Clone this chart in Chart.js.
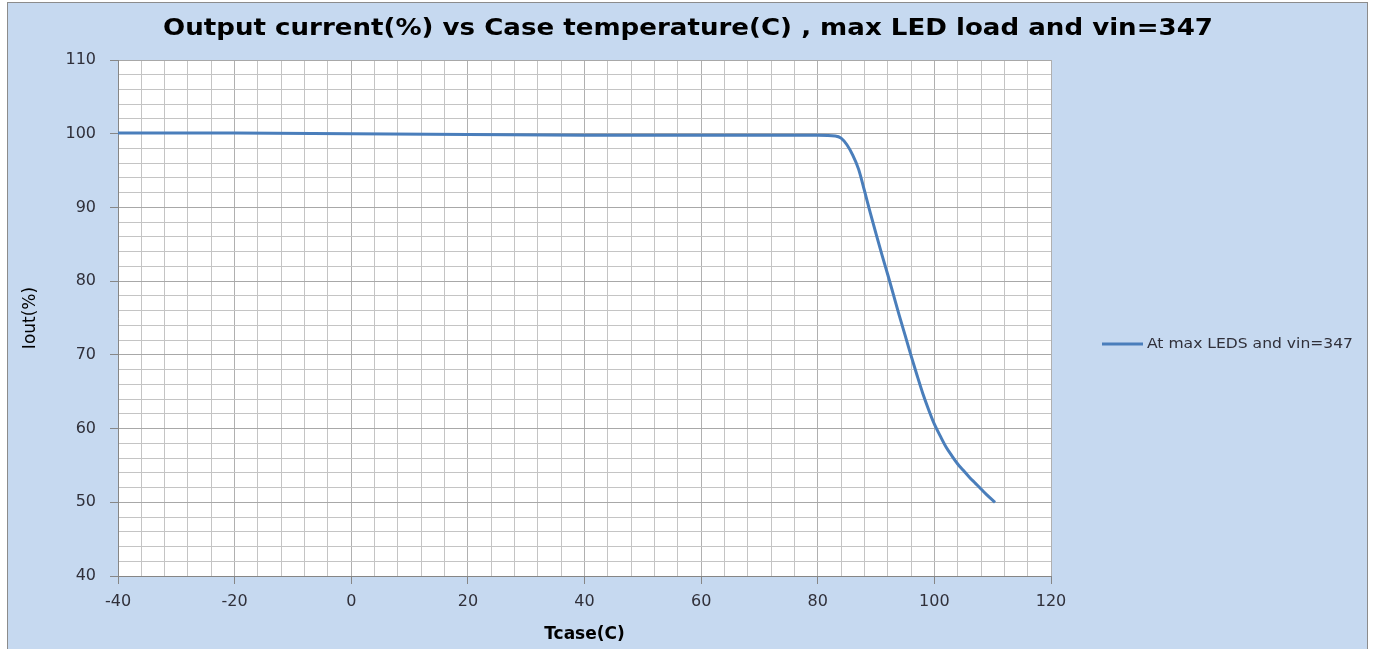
<!DOCTYPE html>
<html>
<head>
<meta charset="utf-8">
<script src="https://cdn.jsdelivr.net/npm/chart.js@4/dist/chart.umd.min.js"></script>
<style>
  html, body { margin: 0; padding: 0; background: #ffffff; }
  canvas { display: block; }
</style>
</head>
<body>
<canvas id="deratingChart" width="1374" height="649"></canvas>
<script>
// values
const chartTitle = 'Output current(%) vs Case temperature(C) , max LED load and vin=347';
const seriesLabel = 'At max LEDS and vin=347';
const tcase = [-40, -20, 0, 20, 40, 60, 80, 83, 84, 85, 86, 87, 88, 89, 90, 91, 92, 93, 94, 95, 96, 97, 98, 99, 100, 101, 102, 103, 104, 105, 106, 107, 108, 109, 110.4];
const ioutPct = [100.1, 100.1, 100.0, 99.9, 99.8, 99.8, 99.8, 99.7, 99.4, 98.5, 97.1, 95.2, 92.3, 89.3, 86.4, 83.6, 80.9, 78.1, 75.3, 72.6, 69.9, 67.3, 64.8, 62.6, 60.6, 59.0, 57.5, 56.3, 55.2, 54.3, 53.4, 52.6, 51.8, 51.0, 50.0];
const xTicks = { min: -40, max: 120, minorStep: 4, labelStep: 20 };
const yTicks = { min: 40, max: 110, minorStep: 2, labelStep: 10 };

const lineBlue = '#4a7ebb';
const textColor = '#30303a';
const axisGray = '#868686';

// draws text squeezed or stretched to a given width, like the source picture
function drawFitted(c, text, x, y, width) {
    const w = c.measureText(text).width;
    c.save();
    c.translate(x, y);
    c.scale(width / w, 1);
    c.fillText(text, 0, 0);
    c.restore();
}

// background, frame, title and legend
const framePlugin = {
    id: 'frame',
    beforeDraw(chart) {
        const c = chart.ctx;
        c.save();
        c.fillStyle = '#ffffff';
        c.fillRect(0, 0, chart.width, chart.height);
        c.fillStyle = '#c6d9f0';
        c.fillRect(7, 2, 1361, 647);
        c.strokeStyle = '#8c8c8c';
        c.lineWidth = 1;
        c.strokeRect(7.5, 2.5, 1360, 650);
        const a = chart.chartArea;
        c.fillStyle = '#ffffff';
        c.fillRect(a.left, a.top, a.right - a.left, a.bottom - a.top);
        c.restore();
    },
    afterDraw(chart) {
        const c = chart.ctx;
        c.save();
        c.fillStyle = '#000000';
        c.font = 'bold 23px "DejaVu Sans"';
        c.textAlign = 'center';
        c.textBaseline = 'middle';
        drawFitted(c, chartTitle, 688, 29, 1050);

        // legend on the right
        const ds = chart.data.datasets[0];
        c.strokeStyle = ds.borderColor;
        c.lineWidth = 3;
        c.beginPath();
        c.moveTo(1102, 344);
        c.lineTo(1143, 344);
        c.stroke();
        c.fillStyle = textColor;
        c.font = '14px "DejaVu Sans"';
        c.textAlign = 'left';
        drawFitted(c, ds.label, 1147, 344, 206);
        c.restore();
    }
};

const isMajor = (ctx, step) => ctx.tick && Math.abs(ctx.tick.value % step) < 1e-6;

const ctx = document.getElementById('deratingChart');
new Chart(ctx, {
    type: 'line',
    data: {
        datasets: [{
            label: seriesLabel,
            data: tcase.map((t, i) => ({ x: t, y: ioutPct[i] })),
            borderColor: lineBlue,
            borderWidth: 3,
            pointRadius: 0,
            fill: false,
            cubicInterpolationMode: 'monotone'
        }]
    },
    options: {
        responsive: false,
        animation: false,
        devicePixelRatio: 1,
        layout: { padding: { top: 60, right: 323, bottom: 0, left: 0 } },
        plugins: {
            legend: { display: false },
            title: { display: false },
            tooltip: { enabled: false }
        },
        scales: {
            x: {
                type: 'linear',
                min: xTicks.min,
                max: xTicks.max,
                afterFit: (scale) => { scale.height = 73; },
                grid: {
                    color: (c) => isMajor(c, xTicks.labelStep) ? '#b0b0b0' : '#c4c4c4',
                    tickColor: (c) => isMajor(c, xTicks.labelStep) ? axisGray : 'rgba(0,0,0,0)',
                    tickLength: 8,
                    lineWidth: 1
                },
                border: { color: axisGray, width: 1 },
                ticks: {
                    stepSize: xTicks.minorStep,
                    autoSkip: false,
                    maxRotation: 0,
                    padding: 8,
                    color: textColor,
                    font: { family: 'DejaVu Sans', size: 16 },
                    callback: (v) => (v % xTicks.labelStep === 0 ? v : '')
                },
                title: {
                    display: true,
                    text: 'Tcase(C)',
                    color: '#000000',
                    font: { family: 'DejaVu Sans', size: 17, weight: 'bold' },
                    padding: { top: 0, bottom: 4 }
                }
            },
            y: {
                min: yTicks.min,
                max: yTicks.max,
                afterFit: (scale) => { scale.width = 118; },
                grid: {
                    color: (c) => isMajor(c, yTicks.labelStep) ? '#a8a8a8' : '#c4c4c4',
                    tickColor: (c) => isMajor(c, yTicks.labelStep) ? axisGray : 'rgba(0,0,0,0)',
                    tickLength: 8,
                    lineWidth: 1
                },
                border: { color: axisGray, width: 1 },
                ticks: {
                    stepSize: yTicks.minorStep,
                    autoSkip: false,
                    padding: 14,
                    color: textColor,
                    font: { family: 'DejaVu Sans', size: 16 },
                    callback: (v) => (v % yTicks.labelStep === 0 ? v : '')
                },
                title: {
                    display: true,
                    text: 'Iout(%)',
                    color: '#000000',
                    font: { family: 'DejaVu Sans', size: 17 },
                    padding: { top: 20, bottom: 0 }
                }
            }
        }
    },
    plugins: [framePlugin]
});
</script>
</body>
</html>
